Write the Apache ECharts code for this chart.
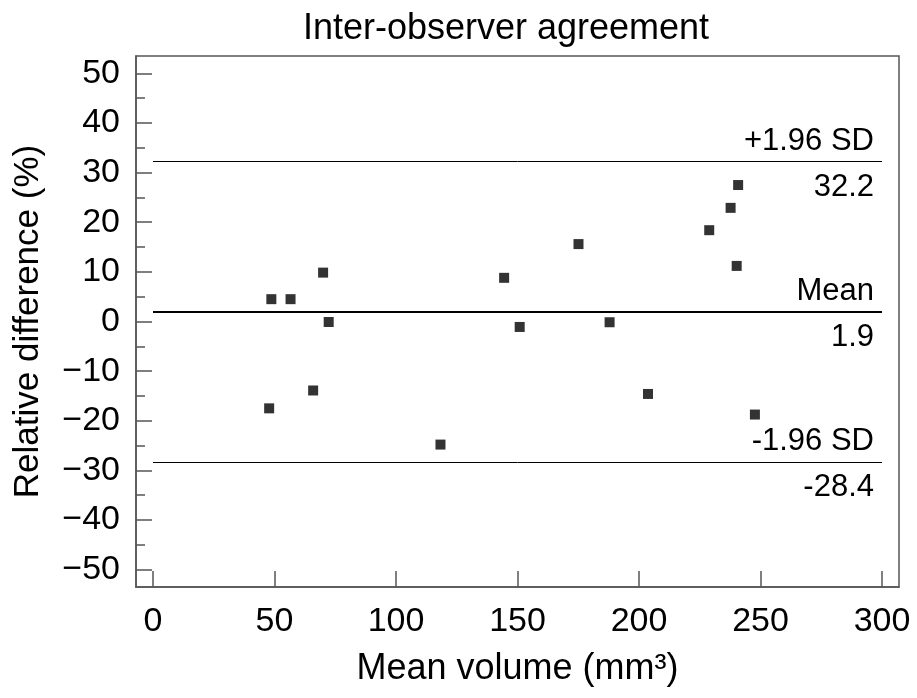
<!DOCTYPE html>
<html>
<head>
<meta charset="utf-8">
<script src="https://cdn.jsdelivr.net/npm/echarts@6/dist/echarts.min.js"></script>
<style>html,body{margin:0;padding:0;background:#fff}#c{width:917px;height:698px}</style>
</head>
<body>
<div id="c"></div>
<script>
const meanVolume = [48.7, 56.6, 70.0, 72.3, 47.8, 65.9, 118.3, 144.5, 150.9, 175.1, 187.9, 203.7, 228.9, 237.7, 240.8, 240.2, 247.7];
const relDiff    = [4.5, 4.5, 9.85, -0.1, -17.5, -13.9, -24.8, 8.8, -1.1, 15.6, -0.15, -14.6, 18.4, 22.9, 27.5, 11.2, -18.75];
const xTicks = [0, 50, 100, 150, 200, 250, 300];
const yTicks = [-50, -40, -30, -20, -10, 0, 10, 20, 30, 40, 50];
const yMinorTicks = [-45, -35, -25, -15, -5, 5, 15, 25, 35, 45];
const refLabels = ['+1.96 SD', 'Mean', '-1.96 SD'];
const refValues = [32.2, 1.9, -28.4];
const refWidths = [1, 2, 1];
const lineStart = 0, lineEnd = 300;

const FONT = '"Liberation Sans", Arial, sans-serif';
const AX = '#555';

const pts = meanVolume.map((x, i) => [x, relDiff[i]]);

const markData = [];
refValues.forEach((v, i) => {
  markData.push([
    { coord: [lineStart, v], lineStyle: { width: refWidths[i], color: '#000', type: 'solid' },
      label: { show: true, position: 'insideEndTop', formatter: refLabels[i], distance: [8, 5] } },
    { coord: [lineEnd, v] }
  ]);
  markData.push([
    { coord: [lineStart, v], lineStyle: { width: 1, color: 'rgba(0,0,0,0)', type: 'solid' },
      label: { show: true, position: 'insideEndBottom', formatter: v.toFixed(1), distance: [8, 10] } },
    { coord: [lineEnd, v] }
  ]);
});

const chart = echarts.init(document.getElementById('c'), null, { renderer: 'canvas' });
chart.setOption({
  animation: false,
  backgroundColor: '#fff',
  textStyle: { fontFamily: FONT },
  title: {
    text: 'Inter-observer agreement',
    left: 501, top: 6, textAlign: 'center',
    textStyle: { fontFamily: FONT, fontSize: 36, fontWeight: 'normal', color: '#000' }
  },
  grid: { left: 136, top: 56, right: 18, bottom: 111, show: true, borderColor: AX, borderWidth: 1.5, backgroundColor: 'transparent' },
  xAxis: {
    type: 'value', min: -7, max: 307,
    name: 'Mean volume (mm³)', nameLocation: 'middle', nameGap: 64,
    nameTextStyle: { fontFamily: FONT, fontSize: 36, color: '#000' },
    axisLine: { show: true, onZero: false, lineStyle: { color: AX, width: 1.5 } },
    axisTick: { show: true, inside: true, length: 16, customValues: xTicks, lineStyle: { color: AX, width: 1.5 } },
    axisLabel: { customValues: xTicks, fontFamily: FONT, fontSize: 34, color: '#000', margin: 18 },
    splitLine: { show: false }
  },
  yAxis: [{
    type: 'value', min: -53.5, max: 53.5,
    name: 'Relative difference (%)', nameLocation: 'middle', nameGap: 90,
    nameTextStyle: { fontFamily: FONT, fontSize: 35, color: '#000' },
    axisLine: { show: true, onZero: false, lineStyle: { color: AX, width: 1.5 } },
    axisTick: { show: true, inside: true, length: 16, customValues: yTicks, lineStyle: { color: AX, width: 1.5 } },
    axisLabel: { customValues: yTicks, fontFamily: FONT, fontSize: 34, color: '#000', margin: 16,
      formatter: v => String(v).replace('-', '\u2212') },
    splitLine: { show: false }
  }, {
    type: 'value', min: -53.5, max: 53.5, position: 'left',
    axisLine: { show: false, onZero: false },
    axisTick: { show: true, inside: true, length: 9, customValues: yMinorTicks, lineStyle: { color: AX, width: 1.5 } },
    axisLabel: { show: false },
    splitLine: { show: false }
  }],
  series: [{
    type: 'scatter',
    data: pts,
    symbol: 'rect', symbolSize: 10,
    itemStyle: { color: '#000' },
    markLine: {
      silent: true, symbol: ['none', 'none'],
      label: { fontFamily: FONT, fontSize: 31, color: '#000' },
      data: markData
    }
  }]
});
</script>
</body>
</html>
